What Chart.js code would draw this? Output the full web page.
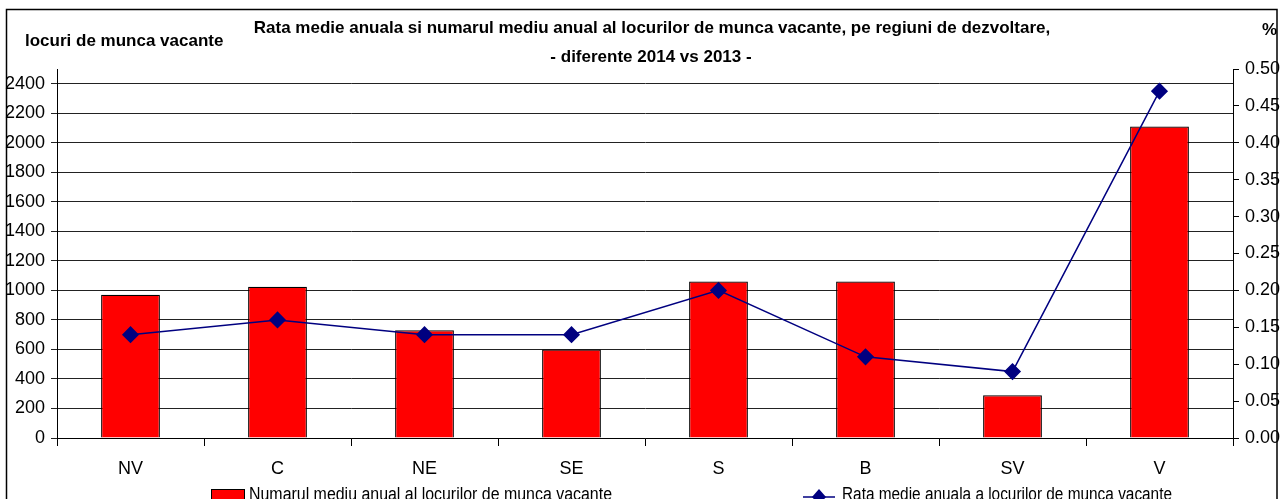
<!DOCTYPE html>
<html>
<head>
<meta charset="utf-8">
<script src="https://cdn.jsdelivr.net/npm/chart.js@4/dist/chart.umd.min.js"></script>
<style>
  html, body { margin: 0; padding: 0; background: #fff; }
  #wrap { width: 1287px; height: 499px; }
</style>
</head>
<body>
<div id="wrap"><canvas id="chart" width="1287" height="499"></canvas></div>
<script>
// Regions and values (differences 2014 vs 2013)
const regions = ["NV", "C", "NE", "SE", "S", "B", "SV", "V"];
const vacancies = [970, 1025, 730, 600, 1060, 1060, 290, 2110];
const vacancyRate = [0.14, 0.16, 0.14, 0.14, 0.20, 0.11, 0.09, 0.47];
const leftTicks = [0, 200, 400, 600, 800, 1000, 1200, 1400, 1600, 1800, 2000, 2200, 2400];

const barLabel = "Numarul mediu anual al locurilor de munca vacante";
const lineLabel = "Rata medie anuala a locurilor de munca vacante";
const titleLines = [
  "Rata medie anuala si numarul mediu anual al locurilor de munca vacante, pe regiuni de dezvoltare,",
  "- diferente 2014 vs 2013 -"
];
const leftTitle = "locuri de munca vacante";
const rightTitle = "%";

const FONT = "'Liberation Sans Narrow', 'Arial Narrow', 'Liberation Sans', sans-serif";

// draw text squeezed to a given width (the original uses a narrow font)
function narrowText(ctx, text, x, y, width) {
  const w = ctx.measureText(text).width;
  const sx = Math.min(1, width / w);
  ctx.save();
  ctx.translate(x, y);
  ctx.scale(sx, 1);
  ctx.fillText(text, 0, 0);
  ctx.restore();
}

// frame, titles and legend drawn on the canvas
const decorations = {
  id: "decorations",
  afterDraw(chart) {
    const ctx = chart.ctx;
    ctx.save();
    // outer frame
    ctx.strokeStyle = "#000";
    ctx.lineWidth = 1.5;
    ctx.beginPath();
    ctx.moveTo(6.5, 499);
    ctx.lineTo(6.5, 9.5);
    ctx.lineTo(1277, 9.5);
    ctx.lineTo(1277, 499);
    ctx.stroke();

    ctx.fillStyle = "#000";
    ctx.textBaseline = "middle";
    ctx.font = "bold 17px " + FONT;
    ctx.textAlign = "center";
    ctx.fillText(titleLines[0], 652, 28);
    ctx.fillText(titleLines[1], 651, 57);
    ctx.textAlign = "left";
    ctx.fillText(leftTitle, 25, 41);
    ctx.textAlign = "right";
    ctx.fillText(rightTitle, 1277, 30);

    // legend
    ctx.font = "18px " + FONT;
    ctx.textAlign = "left";
    ctx.fillStyle = "#ff0000";
    ctx.fillRect(211, 489, 34, 12);
    ctx.strokeStyle = "#000";
    ctx.lineWidth = 1;
    ctx.strokeRect(211.5, 489.5, 33, 12);
    ctx.fillStyle = "#000";
    narrowText(ctx, barLabel, 249, 495, 363);

    ctx.strokeStyle = "#000080";
    ctx.lineWidth = 1.5;
    ctx.beginPath();
    ctx.moveTo(803, 497);
    ctx.lineTo(835, 497);
    ctx.stroke();
    ctx.fillStyle = "#000080";
    ctx.beginPath();
    ctx.moveTo(819, 489);
    ctx.lineTo(826, 497);
    ctx.lineTo(819, 505);
    ctx.lineTo(812, 497);
    ctx.closePath();
    ctx.fill();
    ctx.fillStyle = "#000";
    narrowText(ctx, lineLabel, 842, 495, 330);
    ctx.restore();
  }
};

new Chart(document.getElementById("chart"), {
  data: {
    labels: regions,
    datasets: [
      {
        type: "line",
        label: lineLabel,
        data: vacancyRate,
        yAxisID: "y1",
        borderColor: "#000080",
        borderWidth: 1.5,
        pointStyle: "rectRot",
        pointRadius: 7.5,
        pointBackgroundColor: "#000080",
        pointBorderColor: "#000080",
        tension: 0,
        order: 0
      },
      {
        type: "bar",
        label: barLabel,
        data: vacancies,
        yAxisID: "y",
        backgroundColor: "#ff0000",
        borderColor: "#000",
        borderWidth: 1.2,
        categoryPercentage: 1,
        barPercentage: 0.4,
        order: 1
      }
    ]
  },
  options: {
    responsive: false,
    animation: false,
    layout: { padding: { top: 69, left: 0, right: 0, bottom: 0 } },
    plugins: {
      legend: { display: false },
      title: { display: false },
      tooltip: { enabled: false }
    },
    scales: {
      x: {
        offset: true,
        grid: {
          offset: true,
          drawOnChartArea: false,
          drawTicks: true,
          tickLength: 8,
          color: "#000"
        },
        border: { display: true, color: "#000", width: 1 },
        ticks: { color: "#000", padding: 12, font: { family: FONT, size: 18 } },
        afterFit(scale) { scale.height = 61; }
      },
      y: {
        position: "left",
        min: 0,
        max: 2500,
        afterBuildTicks(scale) {
          scale.ticks = leftTicks.map(v => ({ value: v }));
        },
        ticks: {
          color: "#000",
          padding: 6,
          font: { family: FONT, size: 18 },
          callback: v => String(v)
        },
        grid: { color: "#222", lineWidth: 1, tickLength: 6 },
        border: { display: true, color: "#000", width: 1 },
        afterFit(scale) { scale.width = 57; }
      },
      y1: {
        position: "right",
        min: 0,
        max: 0.5,
        ticks: {
          stepSize: 0.05,
          color: "#000",
          padding: 6,
          font: { family: FONT, size: 18 },
          callback: v => v.toFixed(2)
        },
        grid: { drawOnChartArea: false, color: "#000", tickLength: 6 },
        border: { display: true, color: "#000", width: 1 },
        afterFit(scale) { scale.width = 54; }
      }
    }
  },
  plugins: [decorations]
});
</script>
</body>
</html>
